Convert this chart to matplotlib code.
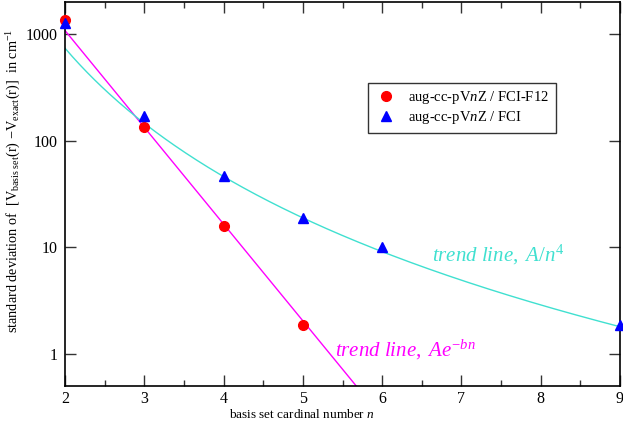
#!/usr/bin/env python3
"""Basis set convergence: std. deviation vs cardinal number."""

import numpy as np
import matplotlib.pyplot as plt

plt.rcParams['font.family'] = ['Liberation Serif', 'DejaVu Serif']
plt.rcParams['mathtext.fontset'] = 'custom'
plt.rcParams['mathtext.rm'] = 'Liberation Serif'
plt.rcParams['mathtext.it'] = 'Liberation Serif:italic'

# data
n_f12 = [2, 3, 4, 5]
sd_f12 = [1350, 133, 16, 1.85]
n_fci = [2, 3, 4, 5, 6, 9]
sd_fci = [1270, 172, 47, 19, 10, 1.85]

# trend line fit parameters
A_exp, b_exp = 70600.0, 2.09     # A e^{-bn}
A_pow = 11800.0                  # A / n^4

cyan = '#40e0d0'
magenta = '#ff00ff'

fig = plt.figure(figsize=(6.23, 4.21), dpi=100)
ax = fig.add_axes([65/623, 35/421, 555/623, 384/421])

n = np.linspace(2, 9, 300)
ax.plot(n, A_exp * np.exp(-b_exp * n), color=magenta, lw=1.0)
ax.plot(n, A_pow / n**4, color=cyan, lw=1.0)

ax.plot(n_f12, sd_f12, 'o', color='red', ms=7, clip_on=False,
        label=r'aug-cc-pV$n$Z / FCI-F12', zorder=3)
ax.plot(n_fci, sd_fci, '^', color='blue', ms=7.5, clip_on=False,
        label=r'aug-cc-pV$n$Z / FCI', zorder=3)

ax.set_yscale('log')
ax.set_xlim(2, 9)
ax.set_ylim(0.5, 2000)
ax.set_yticks([1, 10, 100, 1000])
ax.set_yticklabels(['1', '10', '100', '1000'])
ax.yaxis.set_minor_locator(plt.NullLocator())
ax.set_xticks(range(2, 10))
ax.set_xticks(np.arange(2.5, 9, 1.0), minor=True)

ax.tick_params(which='both', direction='in', top=True, right=True,
               labelsize=11.5, width=1.0, color='#333333')
ax.tick_params(which='major', length=8, pad=5)
ax.tick_params(axis='x', which='major', pad=3.5)
ax.tick_params(which='minor', length=4)
for s in ax.spines.values():
    s.set_linewidth(1.2)

ax.set_xlabel(r'basis set cardinal number $n$', fontsize=9.5)
ax.xaxis.set_label_coords(0.427, -0.058)
ax.set_ylabel(r'standard deviation of  [V$_{\mathrm{basis\ set}}$(r) $-$V$_{\mathrm{exact}}$(r)]  in cm$^{-1}$',
              fontsize=10.3)
ax.yaxis.set_label_coords(-0.076, 0.535)

ax.text(6.63, 7.4, r'$\mathit{trend\ line,\ A/n}^{4}$', color=cyan, fontsize=15)
ax.text(5.4, 0.95, r'$\mathit{trend\ line,\ Ae}^{-bn}$', color=magenta, fontsize=15)

leg = ax.legend(loc='upper left', bbox_to_anchor=(0.546, 0.79), fontsize=10.5,
                frameon=True, fancybox=False, edgecolor='black',
                handletextpad=0.7, borderpad=0.45, labelspacing=0.2,
                handlelength=1.6, borderaxespad=0)
leg.get_frame().set_linewidth(1.0)

plt.savefig('out.png', dpi=100)
